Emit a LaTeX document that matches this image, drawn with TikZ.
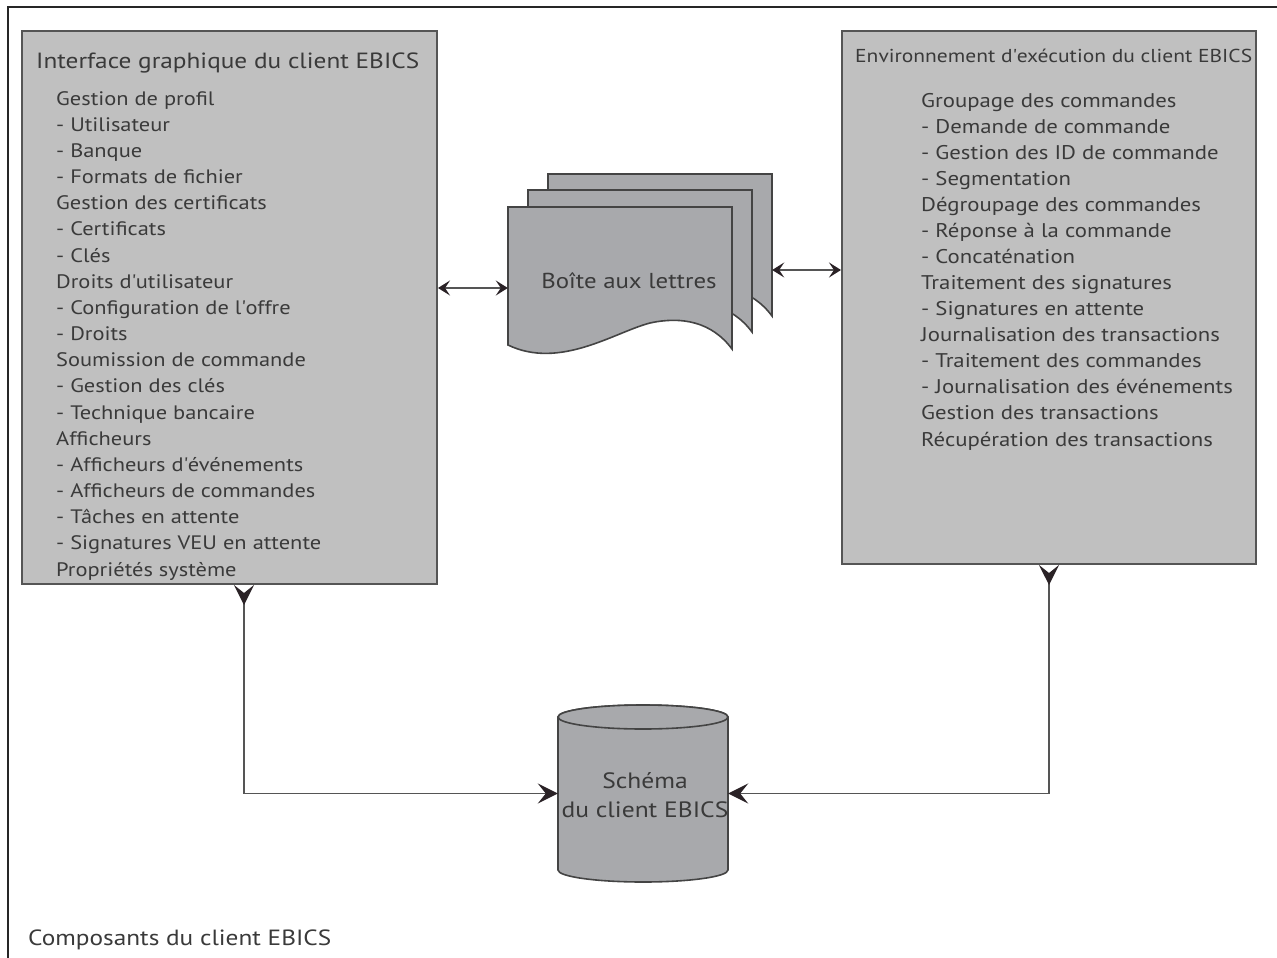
\documentclass[tikz,border=0pt]{standalone}
\usepackage{fontspec}
\setmainfont[FakeStretch=1.15]{PT Sans}
\usetikzlibrary{arrows.meta,calc}
\definecolor{boxfill}{HTML}{C0C0C0}
\definecolor{docfill}{HTML}{A8A9AC}
\definecolor{edge}{HTML}{555555}
\definecolor{txt}{HTML}{3A3A3A}
\definecolor{arr}{HTML}{2A2226}
\tikzset{
  panel/.style={draw=edge, line width=2pt, fill=boxfill, inner sep=0pt},
  titletext/.style={anchor=base west, text=txt, inner sep=0pt, font=\fontsize{22}{26}\selectfont},
  rtitletext/.style={anchor=base west, text=txt, inner sep=0pt, font=\fontsize{18.7}{26}\selectfont},
  itemtext/.style={anchor=base west, text=txt, inner sep=0pt, font=\fontsize{19.5}{26}\selectfont},
  ritemtext/.style={anchor=base west, text=txt, inner sep=0pt, font=\fontsize{19.8}{26}\selectfont},
  page/.style={draw=edge!80!black, line width=1.6pt, fill=docfill},
  conn/.style={draw=edge, line width=1.8pt},
  bigtip/.tip={Stealth[length=20pt, width=20pt, inset=8pt, color=arr]},
  bigtipr/.tip={Stealth[length=20pt, width=20pt, inset=8pt, color=arr, reversed]},
  smalltip/.tip={Stealth[length=12pt, width=15pt, inset=5pt, color=arr]},
}
\begin{document}
\begin{tikzpicture}[x=1pt,y=-1pt]
\useasboundingbox (0,0) rectangle (1277,958);
\fill[white] (0,0) rectangle (1277,958);
\draw[line width=2pt, draw=black!85] (8,958) -- (8,7) -- (1277,7);

% panels
\node[panel, minimum width=415pt, minimum height=553pt] (gui) at (229.5,307.5) {};
\node[panel, minimum width=414pt, minimum height=533pt] (env) at (1049,297.5) {};

\node[titletext] (guititle) at (36,68) {Interface graphique du client EBICS};
\foreach \t [count=\i] in {Gestion de profil, - Utilisateur, - Banque, - Formats de fichier,
  Gestion des certificats, - Certificats, - Clés, Droits d\textquotesingle utilisateur,
  - Configuration de l\textquotesingle offre, - Droits, Soumission de commande,
  - Gestion des clés, - Technique bancaire, Afficheurs,
  - Afficheurs d\textquotesingle événements, - Afficheurs de commandes,
  - Tâches en attente, - Signatures VEU en attente, Propriétés système}
  \node[itemtext] (gi\i) at (56,{105+(\i-1)*26.17}) {\t};

\node[rtitletext] (envtitle) at (855,63) {Environnement d\textquotesingle exécution du client EBICS};
\foreach \t [count=\i] in {Groupage des commandes, - Demande de commande,
  - Gestion des ID de commande, - Segmentation, Dégroupage des commandes,
  - Réponse à la commande, - Concaténation, Traitement des signatures,
  - Signatures en attente, Journalisation des transactions,
  - Traitement des commandes, - Journalisation des événements,
  Gestion des transactions, Récupération des transactions}
  \node[ritemtext] (ei\i) at (921,{107+(\i-1)*26.08}) {\t};

% mailbox (stack of documents)
\foreach \dx/\dy in {40/-33, 20/-17, 0/0}{
  \begin{scope}[shift={(\dx,\dy)}]
    \filldraw[page] (508,207) -- (732,207) -- (732,349)
      .. controls (712,322) and (682,316) .. (650,323)
      .. controls (615,332) and (560,370) .. (508,345) -- cycle;
  \end{scope}
}
\node[minimum width=224pt, minimum height=162pt, inner sep=0pt] (mail) at (620,288) {};
\node[minimum width=224pt, minimum height=192pt, inner sep=0pt] (mailback) at (660,270) {};
\node[text=txt, inner sep=0pt, font=\fontsize{21.6}{26}\selectfont] (mailtext) at (629,281) {Boîte aux lettres};

% database cylinder
\node[minimum width=170pt, minimum height=177pt, inner sep=0pt] (db) at (643,793.5) {};
\filldraw[page] (558,717) -- (558,870) arc[start angle=180, end angle=0, x radius=85, y radius=12]
  -- (728,717) arc[start angle=0, end angle=-180, x radius=85, y radius=12] -- cycle;
\draw[page] (643,717) ellipse [x radius=85, y radius=12];
\node[align=center, text=txt, inner sep=0pt, font=\fontsize{22.2}{29}\selectfont] (dbtext) at (645,795) {Schéma\\du client EBICS};

% connectors
\draw[conn, smalltip-smalltip] (gui.east |- mail.west) -- (mail.west);
\draw[conn, smalltip-smalltip] (mailback.east) -- (env.west |- mailback.east);
\draw[conn, bigtipr-bigtip] ([xshift=14.5pt]gui.south) |- (db.west);
\draw[conn, bigtipr-bigtip] (env.south) |- (db.east);

\node[anchor=base west, text=txt, inner sep=0pt, font=\fontsize{22}{26}\selectfont] (caption) at (28,945) {Composants du client EBICS};
\end{tikzpicture}
\end{document}
